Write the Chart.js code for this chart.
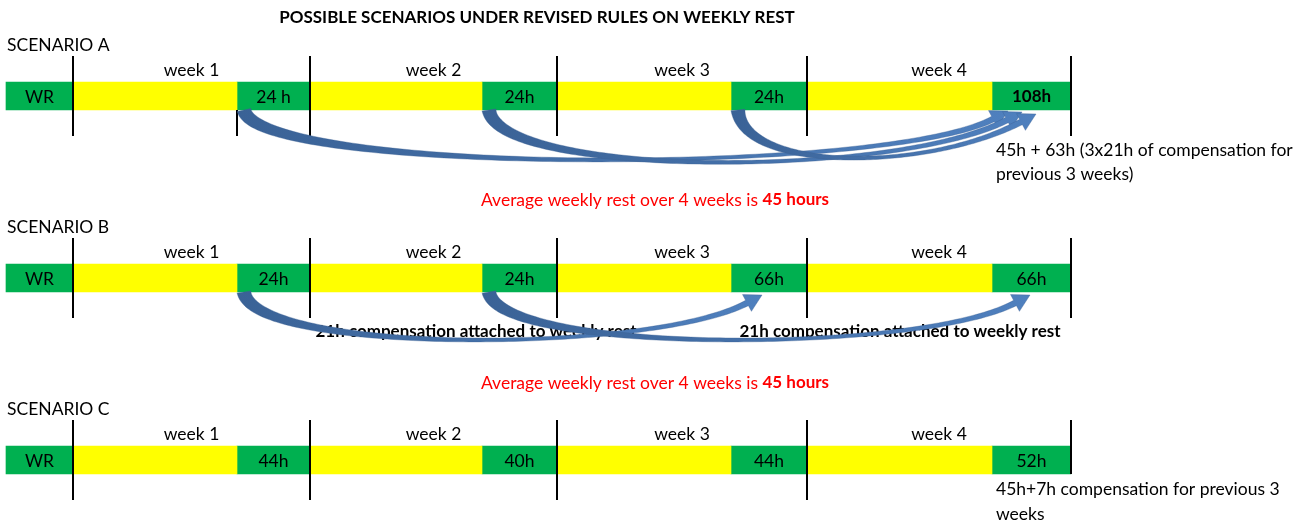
<!DOCTYPE html>
<html><head><meta charset="utf-8">
<script src="https://cdn.jsdelivr.net/npm/chart.js@4.4.1/dist/chart.umd.min.js"></script>
<style>html,body{margin:0;padding:0;background:#fff;}#wrap{width:1312px;height:522px;position:relative;}</style>
</head><body><div id="wrap"><canvas id="c" width="1312" height="522"></canvas></div>
<script>
// ---------- data ----------
const title = 'POSSIBLE SCENARIOS UNDER REVISED RULES ON WEEKLY REST';
const scenarios = ['SCENARIO A', 'SCENARIO B', 'SCENARIO C'];
const weekLabels = ['week 1', 'week 2', 'week 3', 'week 4'];
const timelineStart = 6;
const weekBounds = [73, 310, 557, 807, 1071];
const restStarts = [237, 482, 731, 992];
const restLabelsA = ['WR', '24 h', '24h', '24h', '108h'];
const restLabelsB = ['WR', '24h', '24h', '66h', '66h'];
const restLabelsC = ['WR', '44h', '40h', '44h', '52h'];
const restBoldA = [false, false, false, false, true];
const extraMarksA = [237];
const lastMarkBelow = [true, true, false];
const arrowFromA = [237, 482, 731];
const arrowToA = [1008, 1022, 1036];
const arrowFromB = [237, 482];
const arrowToB = [762, 1030];
const noteA = ['45h + 63h (3x21h of compensation for', 'previous 3 weeks)'];
const noteB = '21h compensation attached to weekly rest';
const noteC = ['45h+7h compensation for previous 3', 'weeks'];
const averageText = 'Average weekly rest over 4 weeks is ';
const averageBold = '45 hours';

// ---------- styles ----------
const GREEN = '#00B050', YELLOW = '#FFFF00';
const FONT = 'Lato, "Open Sans", sans-serif';
const REG = '17.5px ' + FONT, BOLD = 'bold 17px ' + FONT;
const arrowDipA = [65, 68, 62];
const arrowTipDropA = [1, 2, 4];
const arrowDipB = [62, 62];
const arrowTipDropB = [3, 3];

const segStarts = [timelineStart, weekBounds[0], restStarts[0], weekBounds[1], restStarts[1], weekBounds[2], restStarts[2], weekBounds[3], restStarts[3]];
const segEnds = [weekBounds[0], restStarts[0], weekBounds[1], restStarts[1], weekBounds[2], restStarts[2], weekBounds[3], restStarts[3], weekBounds[4]];
const restLabels = [restLabelsA, restLabelsB, restLabelsC];

const datasets = segStarts.map((s, i) => ({
  label: 'seg' + i,
  data: scenarios.map(() => [s, segEnds[i]]),
  backgroundColor: i % 2 === 0 ? GREEN : YELLOW,
  borderWidth: 0,
  barThickness: 28,
  grouped: false,
  clip: false
}));

function txt(ctx, s, x, y, font, color, align) {
  ctx.font = font; ctx.fillStyle = color || '#000';
  ctx.textAlign = align || 'left'; ctx.textBaseline = 'middle';
  ctx.fillText(s, x, y);
}

function drawArrow(ctx, sx, sy, tx, ty, dip) {
  const th = 28 * Math.PI / 180, headLen = 17, headW = 19;
  const ux = Math.cos(th), uy = -Math.sin(th);
  const P0 = {x: sx + 7, y: sy};
  const P3 = {x: tx - headLen * ux, y: ty - headLen * uy};
  const L = P3.x - P0.x;
  const P1 = {x: P0.x + 0.02 * L, y: sy + dip};
  const P2 = {x: P3.x - (sy + dip - P3.y) / Math.tan(th), y: sy + dip};
  const N = 120, A = [], B = [];
  let nEnd = null;
  for (let i = 0; i <= N; i++) {
    const t = i / N, m = 1 - t;
    const x = m*m*m*P0.x + 3*m*m*t*P1.x + 3*m*t*t*P2.x + t*t*t*P3.x;
    const y = m*m*m*P0.y + 3*m*m*t*P1.y + 3*m*t*t*P2.y + t*t*t*P3.y;
    const dx = 3*m*m*(P1.x-P0.x) + 6*m*t*(P2.x-P1.x) + 3*t*t*(P3.x-P2.x);
    const dy = 3*m*m*(P1.y-P0.y) + 6*m*t*(P2.y-P1.y) + 3*t*t*(P3.y-P2.y);
    const len = Math.hypot(dx, dy) || 1;
    const nx = -dy / len, ny = dx / len;
    const w = 2 + 12 * Math.pow(m, 3) + 4 * Math.pow(t, 3);
    A.push([x + nx * w / 2, y + ny * w / 2]);
    B.push([x - nx * w / 2, y - ny * w / 2]);
    if (i === N) nEnd = [nx, ny];
  }
  const g = ctx.createLinearGradient(sx, 0, tx, 0);
  g.addColorStop(0, '#3a6296'); g.addColorStop(1, '#4f80be');
  ctx.beginPath();
  ctx.moveTo(A[0][0], A[0][1]);
  for (const p of A) ctx.lineTo(p[0], p[1]);
  ctx.lineTo(P3.x + nEnd[0] * headW / 2, P3.y + nEnd[1] * headW / 2);
  ctx.lineTo(tx, ty);
  ctx.lineTo(P3.x - nEnd[0] * headW / 2, P3.y - nEnd[1] * headW / 2);
  for (let i = B.length - 1; i >= 0; i--) ctx.lineTo(B[i][0], B[i][1]);
  ctx.closePath();
  ctx.fillStyle = g; ctx.fill();
  ctx.strokeStyle = 'rgba(58,95,145,0.6)'; ctx.lineWidth = 0.6; ctx.stroke();
}

const diagram = {
  id: 'diagram',
  afterDatasetsDraw(chart) {
    const ctx = chart.ctx, xs = chart.scales.x, ys = chart.scales.y;
    const X = v => xs.getPixelForValue(v);
    ctx.save();
    txt(ctx, title, 537, 18, BOLD, '#000', 'center');
    scenarios.forEach((name, r) => {
      const cy = ys.getPixelForValue(r);
      const bot = cy + 14;
      txt(ctx, name, 7, cy - 51, REG, '#000', 'left');
      ctx.strokeStyle = '#000'; ctx.lineWidth = 2;
      weekBounds.forEach((b, i) => {
        const last = i === weekBounds.length - 1;
        const yEnd = (last && !lastMarkBelow[r]) ? bot : cy + 40;
        ctx.beginPath(); ctx.moveTo(X(b), cy - 40); ctx.lineTo(X(b), yEnd); ctx.stroke();
      });
      if (r === 0) extraMarksA.forEach(b => {
        ctx.beginPath(); ctx.moveTo(X(b), bot); ctx.lineTo(X(b), cy + 40); ctx.stroke();
      });
      weekLabels.forEach((w, i) => {
        txt(ctx, w, (X(weekBounds[i]) + X(weekBounds[i + 1])) / 2, cy - 26, REG, '#000', 'center');
      });
      const greens = [[timelineStart, weekBounds[0]]].concat(restStarts.map((s, i) => [s, weekBounds[i + 1]]));
      greens.forEach((g, i) => {
        const bold = r === 0 && restBoldA[i];
        txt(ctx, restLabels[r][i], (X(g[0]) + X(g[1])) / 2, cy + 1, bold ? BOLD : REG, '#000', 'center');
      });
    });
    const rowA = ys.getPixelForValue(0), rowB = ys.getPixelForValue(1), rowC = ys.getPixelForValue(2);
    txt(ctx, noteA[0], X(restStarts[3]) + 4, rowA + 54, REG, '#000', 'left');
    txt(ctx, noteA[1], X(restStarts[3]) + 4, rowA + 78, REG, '#000', 'left');
    txt(ctx, noteC[0], X(restStarts[3]) + 4, rowC + 29, REG, '#000', 'left');
    txt(ctx, noteC[1], X(restStarts[3]) + 4, rowC + 54, REG, '#000', 'left');
    txt(ctx, noteB, 476, rowB + 54, BOLD, '#000', 'center');
    txt(ctx, noteB, 900, rowB + 54, BOLD, '#000', 'center');
    [rowA + 104, rowB + 105].forEach(y => {
      ctx.font = REG; const w1 = ctx.measureText(averageText).width;
      ctx.font = BOLD; const w2 = ctx.measureText(averageBold).width;
      const x0 = 655 - (w1 + w2) / 2;
      txt(ctx, averageText, x0, y, REG, '#FF0000', 'left');
      txt(ctx, averageBold, x0 + w1, y, BOLD, '#FF0000', 'left');
    });
    arrowFromA.forEach((f, i) => drawArrow(ctx, X(f), rowA + 14, X(arrowToA[i]), rowA + 14 + arrowTipDropA[i], arrowDipA[i]));
    arrowFromB.forEach((f, i) => drawArrow(ctx, X(f), rowB + 14, X(arrowToB[i]), rowB + 14 + arrowTipDropB[i], arrowDipB[i]));
    ctx.restore();
  }
};

new Chart(document.getElementById('c'), {
  type: 'bar',
  data: { labels: scenarios, datasets },
  options: {
    indexAxis: 'y',
    responsive: false,
    animation: false,
    devicePixelRatio: 1,
    layout: { padding: { top: 96, bottom: 62, left: 0, right: 0 } },
    scales: {
      x: { type: 'linear', min: 0, max: 1312, display: false },
      y: { type: 'category', offset: false, display: false }
    },
    plugins: { legend: { display: false }, tooltip: { enabled: false } }
  },
  plugins: [diagram]
});
</script></body></html>
